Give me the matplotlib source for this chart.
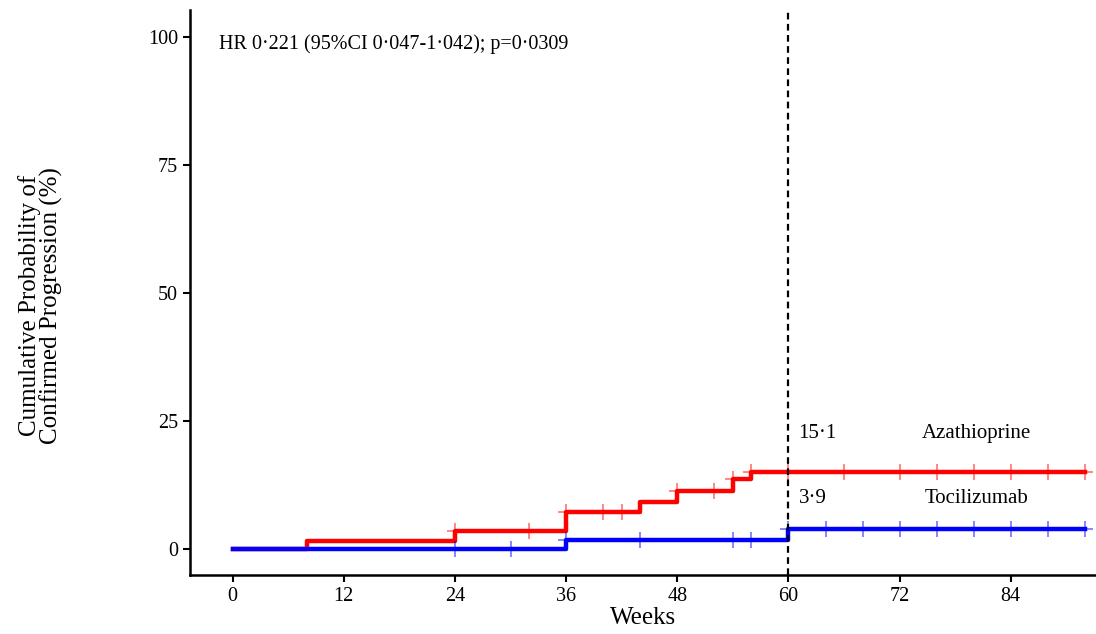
import matplotlib.pyplot as plt

plt.rcParams['font.family'] = ['Liberation Serif', 'DejaVu Serif']

# Kaplan-Meier step curves (weeks, cumulative % progressed)
aza_weeks = [0, 8, 24, 36, 44, 48, 54, 56, 92]
aza_prob = [0, 1.7, 3.5, 7.3, 9.2, 11.4, 13.7, 15.1, 15.1]
toc_weeks = [0, 36, 60, 92]
toc_prob = [0, 1.8, 3.9, 3.9]

# censoring times
aza_cens = [24, 32, 36, 40, 42, 48, 52, 54, 56, 60, 66, 72, 76, 80, 84, 88, 92]
toc_cens = [24, 30, 36, 44, 54, 56, 60, 64, 68, 72, 76, 80, 84, 88, 92]

x_ticks = [0, 12, 24, 36, 48, 60, 72, 84]
y_ticks = [0, 25, 50, 75, 100]
landmark = 60
aza_label = "15·1"
toc_label = "3·9"
hr_text = "HR 0·221 (95%CI 0·047-1·042); p=0·0309"


def level_at(weeks, probs, t):
    val = probs[0]
    for w, p in zip(weeks, probs):
        if w <= t:
            val = p
    return val


fig = plt.figure(figsize=(10.96, 6.34), dpi=100)
ax = fig.add_axes([0.1734, 0.093, 0.8266, 0.891])

ax.step(aza_weeks, aza_prob, where='post', color='red', lw=3.2, zorder=3)
ax.step(toc_weeks, toc_prob, where='post', color='blue', lw=3.2, zorder=4)

ax.plot(aza_cens, [level_at(aza_weeks, aza_prob, t) for t in aza_cens],
        ls='none', marker='+', ms=11, mew=1.2, color='red', alpha=0.55, zorder=5)
ax.plot(toc_cens, [level_at(toc_weeks, toc_prob, t) for t in toc_cens],
        ls='none', marker='+', ms=11, mew=1.2, color='blue', alpha=0.55, zorder=5)

ax.axvline(landmark, color='black', ls=(0, (3, 2)), lw=1.6, zorder=6)

aza_y = level_at(aza_weeks, aza_prob, landmark) + 7.6
toc_y = level_at(toc_weeks, toc_prob, landmark) + 6.0
ax.text(landmark + 1.1, aza_y, aza_label, fontsize=15, ha='left', va='center')
ax.text(80.3, aza_y, 'Azathioprine', fontsize=15, ha='center', va='center')
ax.text(landmark + 1.1, toc_y, toc_label, fontsize=15, ha='left', va='center')
ax.text(80.3, toc_y, 'Tocilizumab', fontsize=15, ha='center', va='center')
ax.text(-1.5, 98.6, hr_text, fontsize=14.5, ha='left', va='center')

ax.set_xlim(-4.6, 93.2)
ax.set_ylim(-5, 105.2)
ax.set_xticks(x_ticks)
ax.set_yticks(y_ticks)
ax.tick_params(labelsize=14.5, width=1.5, length=5, color='black')
ax.set_xlabel('Weeks', fontsize=18, labelpad=1)
ax.set_ylabel('Cumulative Probability of\nConfirmed Progression (%)',
              fontsize=18, linespacing=0.95)
ax.yaxis.set_label_coords(-0.14, 0.477)

for s in ['top', 'right']:
    ax.spines[s].set_visible(False)
for s in ['left', 'bottom']:
    ax.spines[s].set_linewidth(1.8)

fig.savefig('out.png', dpi=100)
